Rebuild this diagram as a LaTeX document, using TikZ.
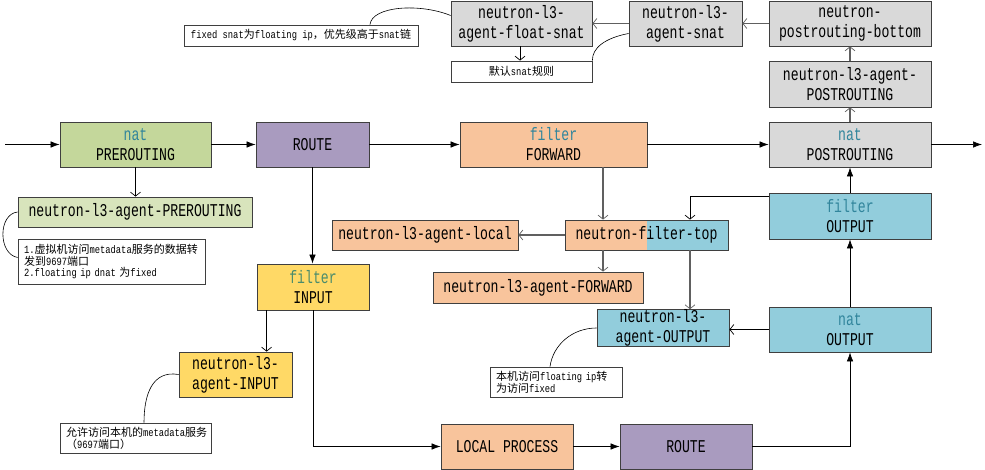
\documentclass[tikz,border=0pt]{standalone}
\usepackage{fontspec}
\usetikzlibrary{arrows.meta,calc}
\newfontfamily\boxfont{Liberation Mono}[FakeStretch=0.73]
\newfontfamily\notefont{Liberation Mono}[FakeStretch=0.8]
\newfontfamily\cjk{Noto Sans CJK SC}
\definecolor{boxline}{HTML}{3F3F3F}
\definecolor{linkgray}{HTML}{606060}
\definecolor{natgreen}{HTML}{C4D79B}
\definecolor{agtgreen}{HTML}{D8E4BC}
\definecolor{routepurple}{HTML}{A99BBF}
\definecolor{filterorange}{HTML}{F8C49C}
\definecolor{natgray}{HTML}{D9D9D9}
\definecolor{outblue}{HTML}{92CDDC}
\definecolor{inyellow}{HTML}{FFD966}
\definecolor{tabteal}{HTML}{31859C}
\definecolor{inteal}{HTML}{4A8C6C}
\newcommand{\tabname}[1]{\textcolor{tabteal}{#1}}

\begin{document}
\begin{tikzpicture}[x=1pt, y=-1pt,
    box/.style={draw=boxline, line width=0.8pt, rectangle, inner sep=0pt, align=center, font=\boxfont\fontsize{18}{20}\selectfont},
    memo/.style={draw=boxline, fill=white, line width=0.8pt, inner xsep=6pt, inner ysep=0pt, font=\notefont\fontsize{11}{12}\selectfont},
    flow/.style={draw=black, line width=0.7pt, -{Latex[length=9pt,width=6.5pt]}},
    link/.style={draw=linkgray, line width=1.1pt, -{Straight Barb[length=4pt,width=10pt,line width=0.7pt]}},
    callout/.style={draw=black, line width=0.6pt}]
        \useasboundingbox (0,0) rectangle (985,470);
        %nodes
        \node[box, fill=natgray, minimum width=141pt, minimum height=45pt] (fsnat) at (521.5, 23.5) {neutron-l3-\\agent-float-snat};
        \node[box, fill=natgray, minimum width=113pt, minimum height=45pt] (snat) at (685.5, 23.5) {neutron-l3-\\agent-snat};
        \node[box, fill=natgray, minimum width=162pt, minimum height=45pt] (pbottom) at (850, 23.5) {neutron-\\postrouting-bottom};
        \node[memo, align=center, minimum width=141pt, minimum height=21pt] (ndefault) at (521.5, 71.5) {{\cjk 默认}snat{\cjk 规则}};
        \node[memo, align=center, minimum width=234pt, minimum height=21pt] (nfixed) at (301, 35.5) {fixed snat{\cjk 为}floating ip{\cjk ，优先级高于}snat{\cjk 链}};
        \node[box, fill=natgray, minimum width=162pt, minimum height=46pt] (apost) at (850, 84) {neutron-l3-agent-\\POSTROUTING};
        \node[box, fill=natgreen, minimum width=151pt, minimum height=45pt] (pre) at (135.5, 144.5) {\tabname{nat}\\PREROUTING};
        \node[box, fill=routepurple, minimum width=113pt, minimum height=45pt] (route1) at (312.5, 144.5) {ROUTE};
        \node[box, fill=filterorange, minimum width=187pt, minimum height=45pt] (fwd) at (553.5, 144.5) {\tabname{filter}\\FORWARD};
        \node[box, fill=natgray, minimum width=162pt, minimum height=45pt] (post) at (850, 144.5) {\tabname{nat}\\POSTROUTING};
        \node[box, fill=agtgreen, minimum width=234pt, minimum height=30pt] (apre) at (135, 212) {neutron-l3-agent-PREROUTING};
        \node[memo, align=left, text width=175pt, minimum height=45pt] (npre) at (111.5, 261.5) {1.{\cjk 虚拟机访问}metadata{\cjk 服务的数据转}\\{\cjk 发到}9697{\cjk 端口}\\2.floating ip dnat {\cjk 为}fixed};
        \node[box, fill=inyellow, minimum width=112pt, minimum height=46pt] (input) at (313, 287) {\textcolor{inteal}{filter}\\INPUT};
        \node[box, fill=inyellow, minimum width=113pt, minimum height=45pt] (ainput) at (235.5, 374.5) {neutron-l3-\\agent-INPUT};
        \node[memo, align=left, text width=139pt, minimum height=30pt] (ninput) at (135.5, 438) {{\cjk 允许访问本机的}metadata{\cjk 服务}\\{\cjk （}9697{\cjk 端口）}};
        \node[box, fill=filterorange, minimum width=186pt, minimum height=30pt] (local) at (425, 235) {neutron-l3-agent-local};
        \node[box, fill=filterorange, minimum width=163pt, minimum height=30pt,
              path picture={\fill[outblue] (path picture bounding box.north) rectangle (path picture bounding box.south east);}] (ftop) at (646.5, 235) {neutron-filter-top};
        \node[box, fill=filterorange, minimum width=210pt, minimum height=31pt] (afwd) at (538, 287.5) {neutron-l3-agent-FORWARD};
        \node[box, fill=outblue, minimum width=162pt, minimum height=46pt] (fout) at (850, 216) {\tabname{filter}\\OUTPUT};
        \node[box, fill=outblue, minimum width=132pt, minimum height=36pt] (aout) at (663, 328) {neutron-l3-\\agent-OUTPUT};
        \node[memo, align=left, text width=120pt, minimum height=30pt] (nout) at (556, 382) {{\cjk 本机访问}floating ip{\cjk 转}\\{\cjk 为访问}fixed};
        \node[box, fill=outblue, minimum width=162pt, minimum height=45pt] (natout) at (850, 329.5) {\tabname{nat}\\OUTPUT};
        \node[box, fill=filterorange, minimum width=132pt, minimum height=45pt] (lproc) at (507, 446.5) {LOCAL PROCESS};
        \node[box, fill=routepurple, minimum width=132pt, minimum height=45pt] (route2) at (686, 446.5) {ROUTE};
        \coordinate (src) at (5, 144.5);
        \coordinate (dst) at (982, 144.5);
        %edges
        \path [flow] (src) -- (pre);
        \path [flow] (pre) -- (route1);
        \path [flow] (route1) -- (fwd);
        \path [flow] (fwd) -- (post);
        \path [flow] (post) -- (dst);
        \path [flow] (route1.south) -- (route1.south |- input.north);
        \path [flow] (input.south) |- (lproc.west);
        \path [flow] (lproc) -- (route2);
        \path [flow] (route2.east) -| (natout.south);
        \path [flow] (natout) -- (fout);
        \path [flow] (fout) -- (post);
        \path [link, draw=black, line width=0.7pt] (pre.south) -- (pre.south |- apre.north);
        \path [link, draw=black, line width=0.7pt] ([xshift=10pt]input.south west) -- ([xshift=10pt]input.south west |- ainput.north);
        \path [link] (post) -- (apost);
        \path [link] (apost) -- (pbottom);
        \path [link] (pbottom) -- (snat);
        \path [link] (snat) -- (fsnat);
        \path [link, draw=black, line width=0.6pt] ([xshift=-1.5pt]fsnat.south) -- ([xshift=-1.5pt]fsnat.south |- ndefault.north);
        \path [link] ([xshift=49.5pt]fwd.south) -- ([xshift=49.5pt]fwd.south |- ftop.north);
        \path [link] (ftop) -- (local);
        \path [link] ([xshift=-43.5pt]ftop.south) -- ([xshift=-43.5pt]ftop.south |- afwd.north);
        \path [link] ([xshift=43.5pt]ftop.south) -- ([xshift=43.5pt]ftop.south |- aout.north);
        \path [link, draw=black, line width=0.7pt] ([yshift=-4pt]fout.north west) -| ([xshift=43.5pt]ftop.north);
        \path [link, draw=black, line width=0.7pt] (natout.west) -- (natout.west -| aout.east);
        %callouts
        \draw [callout] (apre.west) .. controls (-2, 214) and (-2, 254) .. ([yshift=4pt]npre.west);
        \draw [callout] (ainput.west) .. controls (152, 370) and (144, 395) .. ([xshift=8.5pt]ninput.north);
        \draw [callout] (aout.west) .. controls (572, 328) and (553, 345) .. ([xshift=-6pt]nout.north);
        \draw [callout] ([yshift=-10pt]snat.west) .. controls (605, 38) and (592, 48) .. (ndefault.north east);
        \draw [callout] ([xshift=69pt]nfixed.north) .. controls (372, 6) and (420, 3) .. ([yshift=8pt]fsnat.west);
      \end{tikzpicture}
\end{document}
